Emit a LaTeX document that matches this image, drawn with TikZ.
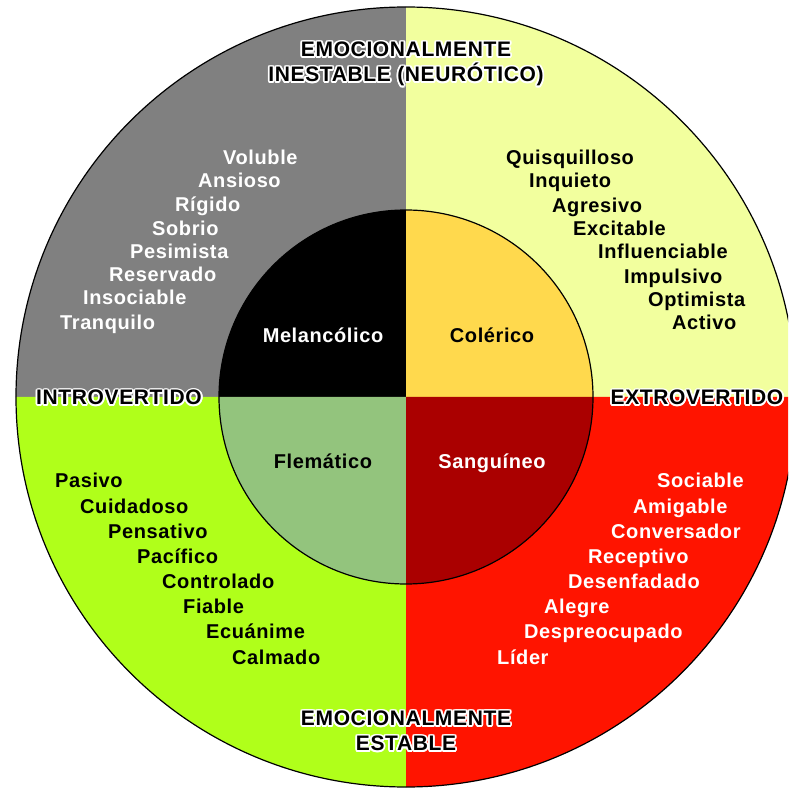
\documentclass[tikz,border=0pt]{standalone}
\usepackage{fontspec}
\setmainfont{Liberation Sans}[LetterSpace=3]
\usepackage{tikz}
\definecolor{MelGray}{RGB}{128,128,128}
\definecolor{ColPale}{RGB}{242,255,158}
\definecolor{FleLime}{RGB}{176,255,26}
\definecolor{SanRed}{RGB}{255,20,0}
\definecolor{ColGold}{RGB}{255,217,77}
\definecolor{FleSage}{RGB}{147,196,125}
\definecolor{SanDark}{RGB}{170,0,0}
\tikzset{
  trait/.style={font=\fontsize{20}{24}\selectfont\bfseries, inner sep=0pt, anchor=base west},
  temper/.style={font=\fontsize{20}{24}\selectfont\bfseries, inner sep=0pt, anchor=base},
  axislabel/.style={font=\fontsize{21}{25}\selectfont\bfseries, inner sep=0pt, align=center}
}
% black label with a white halo
\newcommand{\halolabel}[4]{%
  \foreach \ang in {0,30,...,330}
    \node[axislabel,#3,text=white] (#1h\ang) at ([shift={(\ang:1.8)}]#2) {#4};
  \node[axislabel,#3] (#1) at (#2) {#4};}
\begin{document}
\begin{tikzpicture}[x=1pt,y=1pt]
  \clip (-406,-392) rectangle (382,397);
  \def\R{390}
  \def\r{187}
  % outer ring
  \fill[MelGray] (0,0) -- (-\R,0) arc[start angle=180, end angle=90, radius=\R] -- cycle;
  \fill[ColPale] (0,0) -- (0,\R) arc[start angle=90, end angle=0, radius=\R] -- cycle;
  \fill[FleLime] (0,0) -- (-\R,0) arc[start angle=180, end angle=270, radius=\R] -- cycle;
  \fill[SanRed] (0,0) -- (0,-\R) arc[start angle=270, end angle=360, radius=\R] -- cycle;
  % temperaments
  \fill[black] (0,0) -- (-\r,0) arc[start angle=180, end angle=90, radius=\r] -- cycle;
  \fill[ColGold] (0,0) -- (0,\r) arc[start angle=90, end angle=0, radius=\r] -- cycle;
  \fill[FleSage] (0,0) -- (-\r,0) arc[start angle=180, end angle=270, radius=\r] -- cycle;
  \fill[SanDark] (0,0) -- (0,-\r) arc[start angle=270, end angle=360, radius=\r] -- cycle;
  \draw[line width=1.2pt] (0,0) circle[radius=\R];
  \draw[line width=1.2pt] (0,0) circle[radius=\r];

  \node[temper,white] (mel) at (-83,54) {Melancólico};
  \node[temper,black] (col) at (86,54) {Colérico};
  \node[temper,black] (fle) at (-83,-71) {Flemático};
  \node[temper,white] (san) at (86,-71) {Sanguíneo};

  % traits
  \foreach \w/\px/\py [count=\i] in {Voluble/-183/232, Ansioso/-208/209, Rígido/-231/185,
      Sobrio/-254/161, Pesimista/-276/138, Reservado/-297/115, Insociable/-323/92, Tranquilo/-346/67}
    \node[trait,white] (melt\i) at (\px,\py) {\w};
  \foreach \w/\px/\py [count=\i] in {Quisquilloso/100/232, Inquieto/123/209, Agresivo/146/184,
      Excitable/167/161, Influenciable/192/138, Impulsivo/218/113, Optimista/242/90, Activo/266/67}
    \node[trait,black] (colt\i) at (\px,\py) {\w};
  \foreach \w/\px/\py [count=\i] in {Pasivo/-351/-90, Cuidadoso/-326/-116, Pensativo/-298/-141,
      Pacífico/-269/-166, Controlado/-244/-191, Fiable/-223/-216, Ecuánime/-200/-241, Calmado/-174/-267}
    \node[trait,black] (flet\i) at (\px,\py) {\w};
  \foreach \w/\px/\py [count=\i] in {Sociable/251/-90, Amigable/227/-116, Conversador/205/-141,
      Receptivo/182/-166, Desenfadado/162/-191, Alegre/138/-216, Despreocupado/118/-241, Líder/91/-267}
    \node[trait,white] (sant\i) at (\px,\py) {\w};

  % axes
  \halolabel{neuro}{0,355}{anchor=north}{EMOCIONALMENTE\\INESTABLE (NEURÓTICO)}
  \halolabel{estab}{0,-314}{anchor=north}{EMOCIONALMENTE\\ESTABLE}
  \halolabel{intro}{-287,-8}{anchor=base}{INTROVERTIDO}
  \halolabel{extro}{291,-8}{anchor=base}{EXTROVERTIDO}
\end{tikzpicture}
\end{document}
